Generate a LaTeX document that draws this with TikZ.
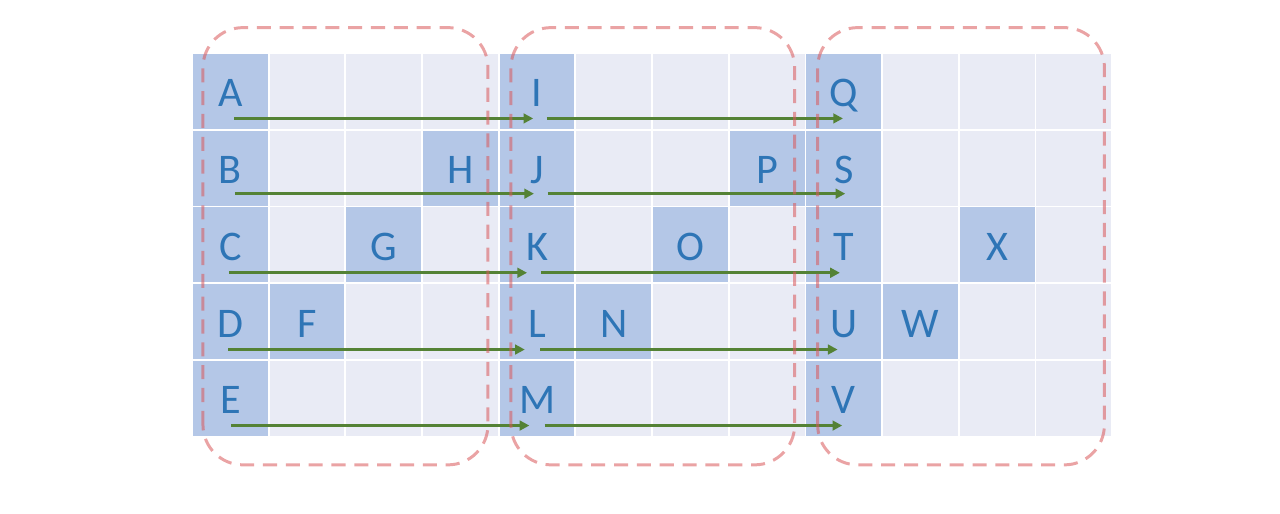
\documentclass[tikz,border=0pt]{standalone}
\usepackage{fontspec}
\setmainfont{Carlito}
\usepackage{xcolor}
\usetikzlibrary{shapes,arrows,arrows.meta}
\usetikzlibrary{positioning}

\definecolor{cellgray}{HTML}{E9EBF5}
\definecolor{cellblue}{HTML}{B4C7E7}
\definecolor{lettblue}{HTML}{2E75B6}
\definecolor{flowgreen}{HTML}{548235}
\definecolor{groupred}{HTML}{D9575A}

\begin{document}
\begin{tikzpicture}[x=1.534cm,y=1.536cm,
  every node/.style={text=lettblue,font=\fontsize{24}{28}\selectfont,text
    height=15.5pt,text depth=0pt,inner sep=0pt,yshift=-1pt},
  cell/.style={fill=cellgray,draw=white,line width=1pt},
  hot/.style={fill=cellblue,draw=white,line width=1pt},
  flow/.style={flowgreen,line width=1.7pt,-{Triangle[length=5.5pt,width=5.5pt]}},
  group/.style={groupred,opacity=.55,line width=1.7pt,dash pattern=on 8pt off
    5pt,rounded corners=.8cm}]

  \useasboundingbox (-2.504,-1.003) rectangle (14.19,5.69);

  \begin{scope}

    % background grid
    \foreach \i in {0,...,11}
      \foreach \j in {0,...,4}
        \draw[cell] (\i,\j) rectangle ++(1,1);

    % first column of each block
    \foreach \i in {0,4,8}
      \foreach \j in {0,...,4}
        \draw[hot] (\i,\j) rectangle ++(1,1);

    \draw[hot] (1,1) rectangle ++(1,1);
    \draw[hot] (2,2) rectangle ++(1,1);
    \draw[hot] (3,3) rectangle ++(1,1);
    \draw[hot] (5,1) rectangle ++(1,1);
    \draw[hot] (6,2) rectangle ++(1,1);
    \draw[hot] (7,3) rectangle ++(1,1);
    \draw[hot] (9,1) rectangle ++(1,1);
    \draw[hot] (10,2) rectangle ++(1,1);

    % block 1
    \node (A) at (0.5,4.5) {A};
    \node (B) at (0.5,3.5) {B};
    \node (C) at (0.5,2.5) {C};
    \node (D) at (0.5,1.5) {D};
    \node (E) at (0.5,0.5) {E};
    \node (F) at (1.5,1.5) {F};
    \node (G) at (2.5,2.5) {G};
    \node (H) at (3.5,3.5) {H};

    % block 2
    \node (I) at (4.5,4.5) {I};
    \node (J) at (4.5,3.5) {J};
    \node (K) at (4.5,2.5) {K};
    \node (L) at (4.5,1.5) {L};
    \node (M) at (4.5,0.5) {M};
    \node (N) at (5.5,1.5) {N};
    \node (O) at (6.5,2.5) {O};
    \node (P) at (7.5,3.5) {P};

    % block 3
    \node (Q) at (8.5,4.5) {Q};
    \node (S) at (8.5,3.5) {S};
    \node (T) at (8.5,2.5) {T};
    \node (U) at (8.5,1.5) {U};
    \node (V) at (8.5,0.5) {V};
    \node (W) at (9.5,1.5) {W};
    \node (X) at (10.5,2.5) {X};

    % moves
    \draw[flow] ([shift={(0.05,-0.33)}]A.center) -- ([shift={(-0.05,-0.33)}]I.center);
    \draw[flow] ([shift={(0.13,-0.33)}]I.center) -- ([shift={(-0.01,-0.33)}]Q.center);
    \draw[flow] ([shift={(0.06,-0.31)}]B.center) -- ([shift={(-0.04,-0.31)}]J.center);
    \draw[flow] ([shift={(0.14,-0.31)}]J.center) -- ([shift={(0.02,-0.31)}]S.center);
    \draw[flow] ([shift={(-0.02,-0.34)}]C.center) -- ([shift={(-0.13,-0.34)}]K.center);
    \draw[flow] ([shift={(0.05,-0.34)}]K.center) -- ([shift={(-0.05,-0.34)}]T.center);
    \draw[flow] ([shift={(-0.03,-0.34)}]D.center) -- ([shift={(-0.16,-0.34)}]L.center);
    \draw[flow] ([shift={(0.04,-0.34)}]L.center) -- ([shift={(-0.08,-0.34)}]U.center);
    \draw[flow] ([shift={(0.01,-0.33)}]E.center) -- ([shift={(-0.1,-0.33)}]M.center);
    \draw[flow] ([shift={(0.1,-0.33)}]M.center) -- ([shift={(-0.02,-0.33)}]V.center);

    % groups
    \draw[group] (0.143,-0.365) rectangle (3.86,5.33);
    \draw[group] (4.16,-0.365) rectangle (7.86,5.33);
    \draw[group] (8.16,-0.365) rectangle (11.9,5.33);

  \end{scope}

\end{tikzpicture}
\end{document}
